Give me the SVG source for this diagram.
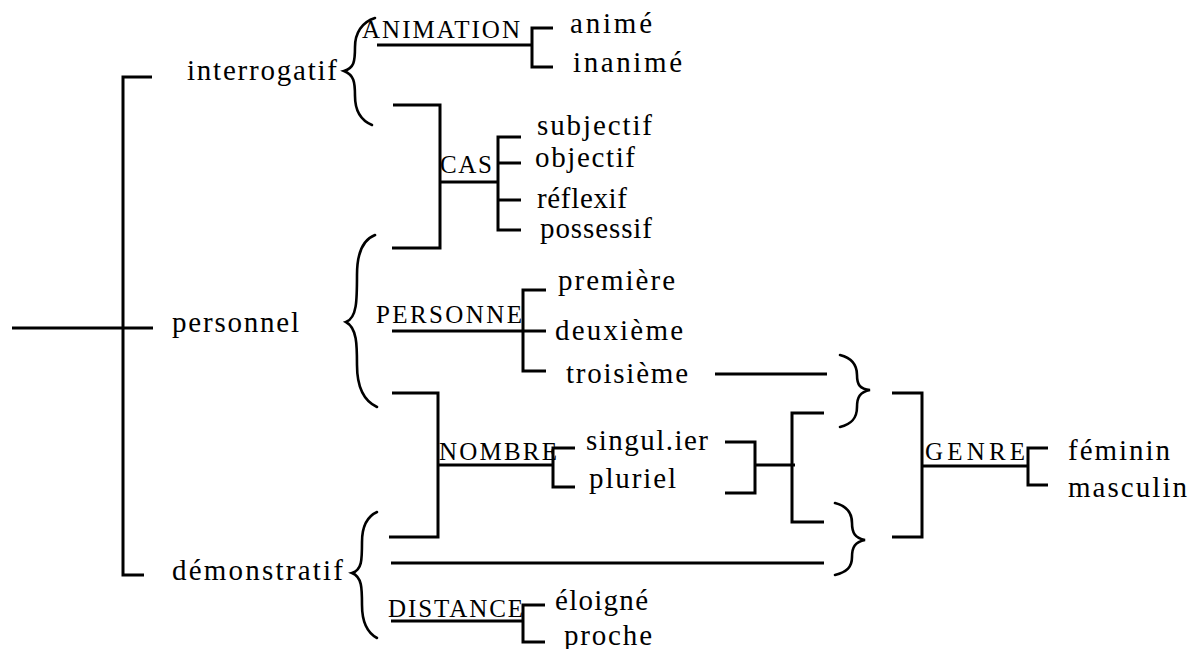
<svg xmlns="http://www.w3.org/2000/svg" width="1191" height="649" viewBox="0 0 1191 649">
<style>
.c{fill:none;stroke:#000;stroke-width:3;stroke-linecap:butt;stroke-linejoin:miter}
.b{fill:none;stroke:#000;stroke-width:2.6;stroke-linecap:round}
.t{font-size:29px}
.k{font-size:25px}
</style>
<rect width="1191" height="649" fill="#fff"/>
<g id="connectors">
<path class="c" d="M12,328 H153 M152,77 H123 V575 H144"/>
<path class="b" d="M375,18 C362,22 355,33 355,47 C355,62 354,68 344,71 C354,75 355,82 355,96 C355,110 360,120 372,125"/>
<path class="b" d="M375,235 C362,240 357,255 357,275 C357,300 357,318 346,322 C357,328 357,345 357,365 C357,385 362,400 377,407"/>
<path class="b" d="M377,512 C366,517 362,528 362,542 C362,560 362,570 352,573 C362,577 362,588 362,605 C362,620 366,632 377,638"/>
<path class="b" d="M840,355 C852,358 857,365 857,375 C857,385 860,389 870,390 C860,392 857,397 857,407 C857,418 852,424 840,427"/>
<path class="b" d="M835,503 C847,506 852,513 852,523 C852,533 855,538 865,540 C855,542 852,547 852,557 C852,567 847,572 835,575"/>
<path class="c" d="M377,45 H532 M553,28 H532 V67 H553"/>
<path class="c" d="M393,105 H440 V248 H392 M440,182 H498 M521,137 H498 V230 H521 M498,163 H521 M498,200 H521"/>
<path class="c" d="M392,331 H546 M546,290 H523 V371 H546"/>
<path class="c" d="M715,374 H827"/>
<path class="c" d="M392,393 H438 V537 H389 M438,465 H553 M575,448 H553 V487 H575"/>
<path class="c" d="M725,442 H755 V493 H725 M755,465 H795 M824,413 H792 V522 H824"/>
<path class="c" d="M391,563 H824"/>
<path class="c" d="M391,621 H523 M545,605 H523 V642 H545"/>
<path class="c" d="M892,393 H922 V537 H892 M922,466 H1028 M1048,448 H1028 V485 H1048"/>
</g>
<g font-family="'Times New Roman', 'Liberation Serif', 'DejaVu Serif', serif" fill="#000">
<g id="n-interrogatif"><text class="t" x="187" y="80" textLength="150" lengthAdjust="spacing">interrogatif</text></g>
<g id="n-personnel"><text class="t" x="172" y="332" textLength="127" lengthAdjust="spacing">personnel</text></g>
<g id="n-demonstratif"><text class="t" x="172" y="580" textLength="171" lengthAdjust="spacing">démonstratif</text></g>
<g id="n-animation"><text class="k" x="362" y="38" textLength="158" lengthAdjust="spacing">ANIMATION</text></g>
<g id="n-anime"><text class="t" x="570" y="33" textLength="82" lengthAdjust="spacing">animé</text></g>
<g id="n-inanime"><text class="t" x="573" y="72" textLength="109" lengthAdjust="spacing">inanimé</text></g>
<g id="n-cas"><text class="k" x="440" y="173" textLength="52" lengthAdjust="spacing">CAS</text></g>
<g id="n-subjectif"><text class="t" x="537" y="135" textLength="115" lengthAdjust="spacing">subjectif</text></g>
<g id="n-objectif"><text class="t" x="535" y="167" textLength="100" lengthAdjust="spacing">objectif</text></g>
<g id="n-reflexif"><text class="t" x="537" y="208" textLength="90" lengthAdjust="spacing">réflexif</text></g>
<g id="n-possessif"><text class="t" x="540" y="238" textLength="112" lengthAdjust="spacing">possessif</text></g>
<g id="n-personne"><text class="k" x="376" y="323" textLength="146" lengthAdjust="spacing">PERSONNE</text></g>
<g id="n-premiere"><text class="t" x="558" y="290" textLength="117" lengthAdjust="spacing">première</text></g>
<g id="n-deuxieme"><text class="t" x="555" y="340" textLength="128" lengthAdjust="spacing">deuxième</text></g>
<g id="n-troisieme"><text class="t" x="566" y="383" textLength="122" lengthAdjust="spacing">troisième</text></g>
<g id="n-nombre"><text class="k" x="439" y="460" textLength="118" lengthAdjust="spacing">NOMBRE</text></g>
<g id="n-singulier"><text class="t" x="586" y="450" textLength="122" lengthAdjust="spacing">singul.ier</text></g>
<g id="n-pluriel"><text class="t" x="589" y="488" textLength="87" lengthAdjust="spacing">pluriel</text></g>
<g id="n-distance"><text class="k" x="388" y="617" textLength="135" lengthAdjust="spacing">DISTANCE</text></g>
<g id="n-eloigne"><text class="t" x="555" y="610" textLength="93" lengthAdjust="spacing">éloigné</text></g>
<g id="n-proche"><text class="t" x="564" y="645" textLength="88" lengthAdjust="spacing">proche</text></g>
<g id="n-genre"><text class="k" x="925" y="460" textLength="100" lengthAdjust="spacing">GENRE</text></g>
<g id="n-feminin"><text class="t" x="1068" y="460" textLength="102" lengthAdjust="spacing">féminin</text></g>
<g id="n-masculin"><text class="t" x="1068" y="497" textLength="119" lengthAdjust="spacing">masculin</text></g>
</g>
</svg>
